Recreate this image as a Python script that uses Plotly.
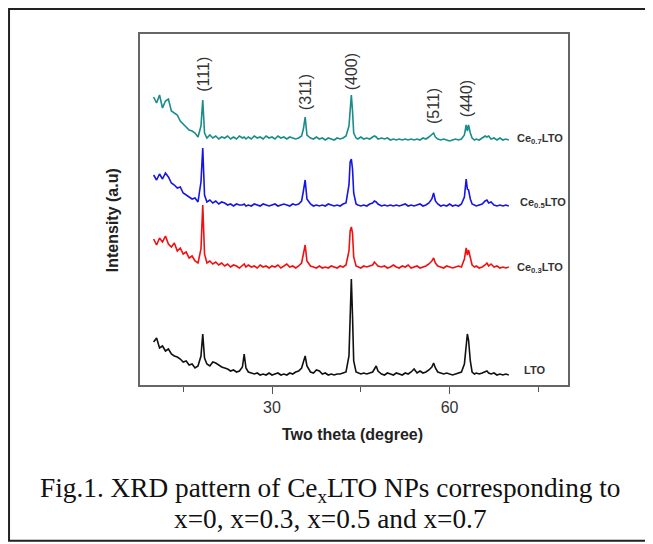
import plotly.graph_objects as go

# 2-theta positions (degree), shared by all four patterns
two_theta = [
    10.0, 10.5, 11.0, 11.5, 12.0, 12.5, 13.0, 13.5, 14.0, 14.5, 15.0, 15.5, 16.0, 16.5, 17.0, 17.5,
    18.0, 18.3, 18.6,
    19.0, 19.5, 20.0, 20.5, 21.0, 21.5, 22.0, 22.5, 23.0, 23.5, 24.0, 24.5,
    25.0, 25.3, 25.6,
    26.0, 26.5, 27.0, 27.5, 28.0, 28.5, 29.0, 29.5, 30.0, 30.5, 31.0, 31.5, 32.0, 32.5, 33.0, 33.5, 34.0, 34.5, 35.0,
    35.3, 35.6, 35.9,
    36.5, 37.0, 37.5, 38.0, 38.5, 39.0, 39.5, 40.0, 40.5, 41.0, 41.5, 42.0, 42.5,
    43.0, 43.2, 43.4, 43.6, 43.8,
    44.2, 44.5, 45.0, 45.5, 46.0, 46.5, 47.0,
    47.3, 47.6, 47.9,
    48.5, 49.0, 49.5, 50.0, 50.5, 51.0, 51.5, 52.0, 52.5, 53.0, 53.5, 54.0, 54.5, 55.0, 55.5, 56.0, 56.5,
    57.0, 57.3, 57.6,
    58.0, 58.5, 59.0, 59.5, 60.0, 60.5, 61.0, 61.5, 62.0,
    62.5, 62.8, 63.0, 63.2, 63.5, 63.8,
    64.2, 64.5, 65.0, 65.5,
    66.0, 66.3, 66.6,
    67.0, 67.5, 68.0, 68.5, 69.0, 69.5, 70.0,
]

# intensities (a.u.) above each pattern's own baseline
lto = [
    34, 38, 28, 30, 25, 27, 22, 20, 19, 17, 14, 15, 11, 12, 8, 10,
    20, 42, 18,
    12, 10, 14, 13, 11, 9, 8, 7, 5, 6, 4, 5,
    9, 22, 8,
    4, 3, 2, 3, 1, 2, 1, 3, 1, 2, 3, 1, 2, 1, 3, 2, 4, 5, 8,
    14, 20, 10,
    4, 3, 6, 5, 2, 3, 1, 2, 1, 2, 2, 3, 4,
    20, 70, 97, 60, 15,
    4, 3, 2, 3, 2, 3, 4,
    7, 10, 5,
    2, 1, 3, 2, 1, 3, 2, 1, 3, 2, 4, 7, 3, 5, 3, 4, 6,
    9, 13, 8,
    4, 3, 2, 3, 2, 1, 2, 3, 4,
    12, 35, 42, 36, 15, 4,
    2, 3, 2, 3,
    4, 5, 3,
    2, 3, 1, 2, 1, 2, 1,
]
ce03 = [
    30, 24, 31, 27, 33, 25, 22, 26, 18, 21, 15, 17, 11, 13, 8, 6,
    20, 64, 15,
    6, 8, 5, 7, 4, 6, 3, 5, 2, 4, 3, 1,
    3, 5, 2,
    4, 2, 3, 1, 4, 2, 3, 1, 3, 2, 4, 1, 3, 5, 2, 3, 1, 3, 6,
    14, 24, 8,
    3, 2, 1, 3, 1, 2, 1, 3, 2, 1, 3, 2, 4,
    18, 38, 42, 36, 12,
    3, 2, 1, 3, 2, 3, 4,
    7, 5, 3,
    2, 3, 1, 2, 4, 2, 1, 3, 2, 4, 1, 2, 3, 1, 2, 3, 5,
    8, 11, 6,
    3, 2, 1, 3, 2, 1, 2, 3, 2,
    10, 21, 14, 19, 12, 4,
    2, 3, 1, 2,
    4, 6, 3,
    5, 2, 3, 1, 2, 1, 2,
]
ce05 = [
    32, 27, 33, 28, 34, 30, 24, 22, 19, 20, 14, 12, 10, 8, 9, 5,
    25, 59, 12,
    5, 7, 4, 6, 3, 5, 4, 2, 3, 1, 3, 2,
    2, 3, 1,
    2, 1, 3, 2, 1, 3, 2, 1, 2, 3, 1, 2, 3, 2, 1, 3, 2, 3, 6,
    16, 27, 8,
    3, 1, 2, 1, 2, 1, 3, 2, 1, 2, 1, 3, 4,
    22, 45, 48, 38, 14,
    3, 2, 1, 2, 1, 3, 4,
    6, 5, 3,
    1, 2, 1, 2, 1, 2, 1, 2, 3, 1, 2, 1, 2, 3, 1, 2, 4,
    8, 14, 6,
    3, 1, 2, 1, 3, 1, 2, 1, 3,
    10, 28, 18, 17, 8, 3,
    2, 1, 2, 3,
    6, 7, 4,
    5, 2, 1, 2, 1, 2, 1,
]
ce07 = [
    44, 38, 46, 33, 40, 42, 30, 28, 26, 20, 17, 15, 11, 10, 8, 4,
    15, 41, 8,
    3, 6, 3, 5, 2, 4, 3, 5, 2, 4, 2, 5,
    3, 4, 2,
    4, 2, 5, 3, 4, 2, 5, 3, 4, 2, 5, 3, 4, 2, 4, 3, 2, 3, 5,
    12, 24, 6,
    3, 2, 4, 2, 3, 1, 3, 2, 1, 3, 2, 3, 5,
    15, 36, 46, 30, 8,
    3, 2, 4, 2, 3, 2, 4,
    5, 4, 2,
    3, 2, 3, 1, 2, 1, 2, 1, 2, 1, 2, 1, 2, 1, 3, 2, 4,
    6, 8, 4,
    2, 1, 2, 1, 0, 1, 2, 1, 2,
    6, 16, 10, 16, 8, 3,
    1, 2, 1, 3,
    5, 4, 5,
    2, 3, 1, 3, 1, 2, 1,
]

series = [lto, ce03, ce05, ce07]
offsets = [9, 116, 178, 244]
colors = ["#111111", "#f01010", "#1515e6", "#1a8c8c"]
sample_labels = ["<b>LTO</b>", "<b>Ce<sub>0.3</sub>LTO</b>", "<b>Ce<sub>0.5</sub>LTO</b>", "<b>Ce<sub>0.7</sub>LTO</b>"]
label_x = [72.3, 71.0, 71.5, 71.0]
label_y = [15, 117, 182, 246]

hkl = ["(111)", "(311)", "(400)", "(511)", "(440)"]
hkl_x = [18.3, 35.6, 43.4, 57.2, 62.8]
hkl_y = [311, 293, 313, 279, 286]

fig = go.Figure()
for ys, off, col in zip(series, offsets, colors):
    fig.add_trace(go.Scatter(
        x=two_theta, y=[v + off for v in ys], mode="lines",
        line=dict(color=col, width=1.6), showlegend=False))

for t, x, y in zip(sample_labels, label_x, label_y):
    fig.add_annotation(x=x, y=y, text=t, showarrow=False, xanchor="left", yanchor="middle",
                       font=dict(family="Arial", size=11, color="#333333"))

for t, x, y in zip(hkl, hkl_x, hkl_y):
    fig.add_annotation(x=x, y=y, text=t, showarrow=False, textangle=-90,
                       xanchor="center", yanchor="middle",
                       font=dict(family="Arial", size=16, color="#333333"))

# axis titles and caption (explicit anchors, paper 'auto' would snap to edges)
fig.add_annotation(xref="paper", yref="paper", x=0.497, y=-0.14, text="<b>Two theta (degree)</b>",
                   showarrow=False, xanchor="center", yanchor="middle",
                   font=dict(family="Arial", size=16, color="#222222"))
fig.add_annotation(xref="paper", yref="paper", x=-0.065, y=0.47, text="<b>Intensity (a.u)</b>",
                   showarrow=False, textangle=-90, xanchor="center", yanchor="middle",
                   font=dict(family="Arial", size=16, color="#222222"))
fig.add_annotation(xref="paper", yref="paper", x=0.444, y=-0.298,
                   text="Fig.1. XRD pattern of Ce<sub>x</sub>LTO NPs corresponding to",
                   showarrow=False, xanchor="center", yanchor="middle",
                   font=dict(family="Liberation Serif", size=27.3, color="#111111"))
fig.add_annotation(xref="paper", yref="paper", x=0.444, y=-0.382,
                   text="x=0, x=0.3, x=0.5 and x=0.7",
                   showarrow=False, xanchor="center", yanchor="middle",
                   font=dict(family="Liberation Serif", size=27.3, color="#111111"))

# outer frame of the figure
fig.add_shape(type="rect", xref="paper", yref="paper", x0=-0.306, x1=1.194, y0=-0.444, y1=1.071,
              line=dict(color="#222222", width=2))

# page body has an 8px margin, so the figure is drawn 8px smaller and shifted
fig.update_layout(
    width=645, height=536,
    margin=dict(l=132, r=85, t=26, b=159),
    paper_bgcolor="white", plot_bgcolor="white",
    xaxis=dict(range=[7.7, 80], tickvals=[30, 60], ticks="outside", ticklen=7, tickwidth=1,
               tickcolor="#555555", showline=True, mirror=True, linecolor="#666666", linewidth=2,
               showgrid=False, zeroline=False,
               tickfont=dict(family="Arial", size=16, color="#333333"),
               minor=dict(tickvals=[15, 45, 75], ticks="outside", ticklen=5, tickcolor="#555555")),
    yaxis=dict(range=[0, 351], showticklabels=False, ticks="", showline=True, mirror=True,
               linecolor="#666666", linewidth=2, showgrid=False, zeroline=False),
)

fig.write_html("out.html")
